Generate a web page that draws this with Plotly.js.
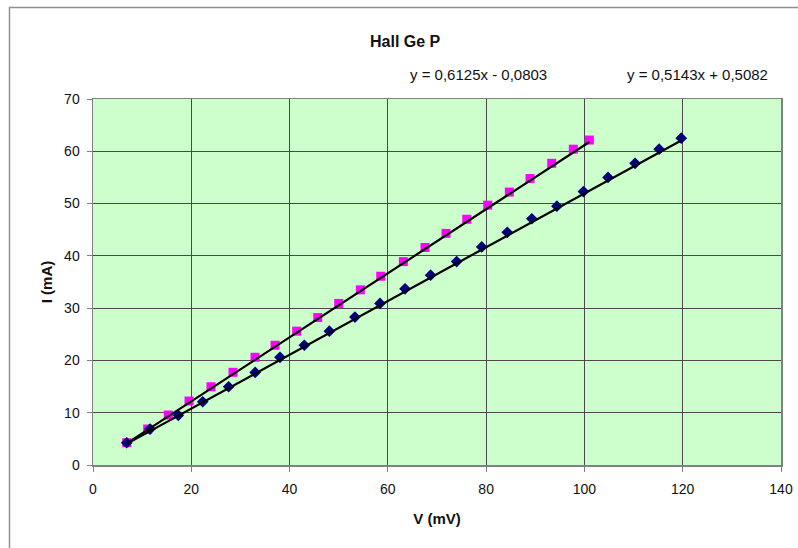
<!DOCTYPE html>
<html>
<head>
<meta charset="utf-8">
<script src="https://cdn.plot.ly/plotly-3.0.1.min.js"></script>
<style>html,body{margin:0;padding:0;background:#fff;}#chart{width:798px;height:548px;}</style>
</head>
<body>
<div id="chart"></div>
<script>
// Series 1 (magenta squares)
const v1 = [6.86, 11.13, 15.32, 19.54, 24.01, 28.49, 32.97, 37.04, 41.45, 45.73, 50.0, 54.4, 58.55, 63.15, 67.56, 71.84, 76.05, 80.32, 84.72, 88.93, 93.34, 97.74, 101.0];
const i1 = [4.26, 6.88, 9.56, 12.24, 14.97, 17.73, 20.6, 22.9, 25.6, 28.2, 30.9, 33.5, 36.1, 38.9, 41.6, 44.3, 47.0, 49.7, 52.2, 54.8, 57.7, 60.4, 62.15];
// Series 2 (navy diamonds)
const v2 = [6.86, 11.6, 17.36, 22.32, 27.6, 33.0, 38.05, 43.0, 48.1, 53.3, 58.4, 63.5, 68.7, 74.0, 79.1, 84.3, 89.3, 94.4, 99.8, 104.8, 110.3, 115.2, 119.7];
const i2 = [4.26, 6.88, 9.5, 12.1, 14.97, 17.7, 20.6, 22.9, 25.6, 28.3, 30.9, 33.7, 36.3, 38.9, 41.7, 44.5, 47.1, 49.5, 52.3, 55.0, 57.7, 60.4, 62.5];
// Trendline equations shown on the chart
const slope1 = 0.6125, intercept1 = -0.0803;
const slope2 = 0.5143, intercept2 = 0.5082;
const eq1 = "y = 0,6125x - 0,0803";
const eq2 = "y = 0,5143x + 0,5082";
const xTicks = [0, 20, 40, 60, 80, 100, 120, 140];
const yTicks = [0, 10, 20, 30, 40, 50, 60, 70];

function trend(xs, m, b) {
  const lo = Math.min(...xs), hi = Math.max(...xs);
  return {x: [lo, hi], y: [m * lo + b, m * hi + b]};
}
const t1 = trend(v1, slope1, intercept1);
const t2 = trend(v2, slope2, intercept2);

const font = "Liberation Sans, Arial, sans-serif";
const traces = [
  {x: v1, y: i1, type: 'scatter', mode: 'markers', marker: {symbol: 'square', size: 9, color: '#FF00FF'}, hoverinfo: 'x+y'},
  {x: v2, y: i2, type: 'scatter', mode: 'markers', marker: {symbol: 'diamond', size: 9, color: '#000080'}, hoverinfo: 'x+y'},
  {x: t1.x, y: t1.y, type: 'scatter', mode: 'lines', line: {color: '#000', width: 2.2}, hoverinfo: 'skip'},
  {x: t2.x, y: t2.y, type: 'scatter', mode: 'lines', line: {color: '#000', width: 2.2}, hoverinfo: 'skip'}
];

const layout = {
  width: 798, height: 548,
  margin: {l: 93, r: 17, t: 99, b: 83},
  paper_bgcolor: '#fff',
  plot_bgcolor: '#CCFFCC',
  showlegend: false,
  font: {family: font, size: 14, color: '#000'},
  xaxis: {
    range: [0, 140], tickvals: xTicks, ticktext: xTicks.map(String),
    showgrid: true, gridcolor: '#4a4a4a', gridwidth: 1,
    showline: true, linecolor: '#808080', linewidth: 1.5, mirror: true,
    ticks: 'outside', ticklen: 5, tickcolor: '#808080',
    ticklabelstandoff: 6,
    zeroline: false,
    tickfont: {family: font, size: 14, color: '#111'},
    title: {text: '<b>V (mV)</b>', font: {family: font, size: 15, color: '#111'}, standoff: 17}
  },
  yaxis: {
    range: [0, 70], tickvals: yTicks, ticktext: yTicks.map(String),
    showgrid: true, gridcolor: '#4a4a4a', gridwidth: 1,
    showline: true, linecolor: '#808080', linewidth: 1.5, mirror: true,
    ticks: 'outside', ticklen: 5, tickcolor: '#808080',
    ticklabelstandoff: 4,
    zeroline: false,
    tickfont: {family: font, size: 14, color: '#111'},
    title: {text: '<b>I (mA)</b>', font: {family: font, size: 15, color: '#111'}, standoff: 8}
  },
  annotations: [
    {text: '<b>Hall Ge P</b>', xref: 'paper', yref: 'paper', x: (405 - 93) / 688, y: (465 - 42) / 366, showarrow: false, font: {family: font, size: 16, color: '#111'}, xanchor: 'center', yanchor: 'middle'},
    {text: eq1, xref: 'paper', yref: 'paper', x: (478 - 93) / 688, y: (465 - 75) / 366, showarrow: false, font: {family: font, size: 15, color: '#111'}, xanchor: 'center', yanchor: 'middle'},
    {text: eq2, xref: 'paper', yref: 'paper', x: (697 - 93) / 688, y: (465 - 75) / 366, showarrow: false, font: {family: font, size: 15, color: '#111'}, xanchor: 'center', yanchor: 'middle'}
  ],
  shapes: [
    {type: 'rect', xref: 'paper', yref: 'paper', x0: (9.5 - 93) / 688, x1: (820 - 93) / 688, y0: (465 - 570) / 366, y1: (465 - 7.5) / 366, line: {color: '#909090', width: 1.5}, fillcolor: 'rgba(0,0,0,0)', layer: 'below'}
  ]
};

Plotly.newPlot('chart', traces, layout, {displayModeBar: false, staticPlot: true});
</script>
</body>
</html>
